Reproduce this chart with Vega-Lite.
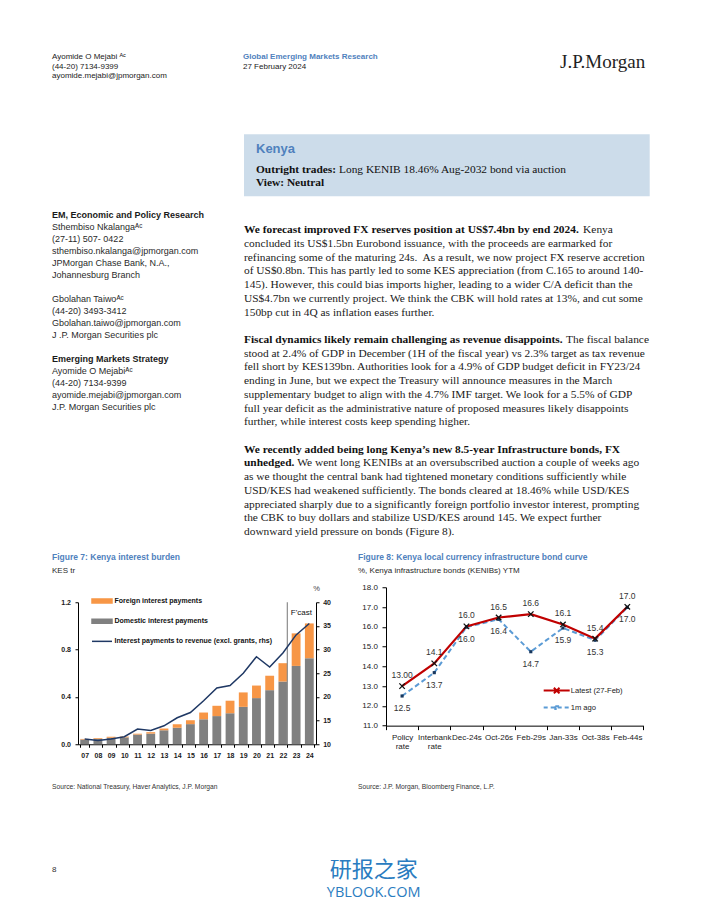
{
  "$schema": "https://vega.github.io/schema/vega-lite/v6.json",
  "background": "#ffffff",
  "padding": {"left": 52, "top": 52.25, "right": 0, "bottom": 7},
  "spacing": 0,
  "resolve": {"scale": {"color": "independent"}, "legend": {"color": "independent"}},
  "config": {
    "view": {"stroke": null},
    "font": "Liberation Sans",
    "axis": {"labelFont": "Liberation Sans", "titleFont": "Liberation Sans", "domainColor": "#000000", "tickColor": "#000000", "labelColor": "#1a1a1a", "grid": false, "domainWidth": 1, "tickWidth": 1}
  },
  "datasets": {
    "header_left": [
      {"line": 0, "text": "Ayomide O Mejabi ᴬᶜ"},
      {"line": 1, "text": "(44-20) 7134-9399"},
      {"line": 2, "text": "ayomide.mejabi@jpmorgan.com"}
    ],
    "header_mid": [
      {"line": 0, "role": "heading", "text": "Global Emerging Markets Research"},
      {"line": 1, "role": "text", "text": "27 February 2024"}
    ],
    "logo": [{"text": "J.P.Morgan"}],
    "box": [
      {"line": 1, "role": "lead", "text": "Outright trades:"},
      {"line": 1, "role": "tail", "text": "Long KENIB 18.46% Aug-2032 bond via auction"},
      {"line": 2, "role": "lead", "text": "View: Neutral"}
    ],
    "contacts": [
      {"line": 0, "role": "heading", "text": "EM, Economic and Policy Research"},
      {"line": 1, "role": "text", "text": "Sthembiso Nkalangaᴬᶜ"},
      {"line": 2, "role": "text", "text": "(27-11) 507- 0422"},
      {"line": 3, "role": "text", "text": "sthembiso.nkalanga@jpmorgan.com"},
      {"line": 4, "role": "text", "text": "JPMorgan Chase Bank, N.A.,"},
      {"line": 5, "role": "text", "text": "Johannesburg Branch"},
      {"line": 7, "role": "text", "text": "Gbolahan Taiwoᴬᶜ"},
      {"line": 8, "role": "text", "text": "(44-20) 3493-3412"},
      {"line": 9, "role": "text", "text": "Gbolahan.taiwo@jpmorgan.com"},
      {"line": 10, "role": "text", "text": "J .P. Morgan Securities plc"},
      {"line": 12, "role": "heading", "text": "Emerging Markets Strategy"},
      {"line": 13, "role": "text", "text": "Ayomide O Mejabiᴬᶜ"},
      {"line": 14, "role": "text", "text": "(44-20) 7134-9399"},
      {"line": 15, "role": "text", "text": "ayomide.mejabi@jpmorgan.com"},
      {"line": 16, "role": "text", "text": "J.P. Morgan Securities plc"}
    ],
    "body": [
      {"line": 0, "role": "lead", "text": "We forecast improved FX reserves position at US$7.4bn by end 2024."},
      {"line": 0, "role": "tail", "text": "Kenya"},
      {"line": 1, "role": "text", "text": "concluded its US$1.5bn Eurobond issuance, with the proceeds are earmarked for"},
      {"line": 2, "role": "text", "text": "refinancing some of the maturing 24s.\u00a0 As a result, we now project FX reserve accretion"},
      {"line": 3, "role": "text", "text": "of US$0.8bn. This has partly led to some KES appreciation (from C.165 to around 140-"},
      {"line": 4, "role": "text", "text": "145). However, this could bias imports higher, leading to a wider C/A deficit than the"},
      {"line": 5, "role": "text", "text": "US$4.7bn we currently project. We think the CBK will hold rates at 13%, and cut some"},
      {"line": 6, "role": "text", "text": "150bp cut in 4Q as inflation eases further."},
      {"line": 8, "role": "lead", "text": "Fiscal dynamics likely remain challenging as revenue disappoints."},
      {"line": 8, "role": "tail", "text": "The fiscal balance"},
      {"line": 9, "role": "text", "text": "stood at 2.4% of GDP in December (1H of the fiscal year) vs 2.3% target as tax revenue"},
      {"line": 10, "role": "text", "text": "fell short by KES139bn. Authorities look for a 4.9% of GDP budget deficit in FY23/24"},
      {"line": 11, "role": "text", "text": "ending in June, but we expect the Treasury will announce measures in the March"},
      {"line": 12, "role": "text", "text": "supplementary budget to align with the 4.7% IMF target. We look for a 5.5% of GDP"},
      {"line": 13, "role": "text", "text": "full year deficit as the administrative nature of proposed measures likely disappoints"},
      {"line": 14, "role": "text", "text": "further, while interest costs keep spending higher."},
      {"line": 16, "role": "lead", "text": "We recently added being long Kenya’s new 8.5-year Infrastructure bonds, FX"},
      {"line": 17, "role": "lead", "text": "unhedged."},
      {"line": 17, "role": "tail", "text": "We went long KENIBs at an oversubscribed auction a couple of weeks ago"},
      {"line": 18, "role": "text", "text": "as we thought the central bank had tightened monetary conditions sufficiently while"},
      {"line": 19, "role": "text", "text": "USD/KES had weakened sufficiently. The bonds cleared at 18.46% while USD/KES"},
      {"line": 20, "role": "text", "text": "appreciated sharply due to a significantly foreign portfolio investor interest, prompting"},
      {"line": 21, "role": "text", "text": "the CBK to buy dollars and stabilize USD/KES around 145. We expect further"},
      {"line": 22, "role": "text", "text": "downward yield pressure on bonds (Figure 8)."}
    ],
    "titles7": [
      {"line": 0, "role": "heading", "text": "Figure 7: Kenya interest burden"},
      {"line": 1, "role": "text", "text": "KES tr"}
    ],
    "titles8": [
      {"line": 0, "role": "heading", "text": "Figure 8: Kenya local currency infrastructure bond curve"},
      {"line": 1, "role": "text", "text": "%, Kenya infrastructure bonds (KENIBs) YTM"}
    ],
    "burden": [
      {"year": "07", "series": "Domestic interest payments", "value": 0.040}, {"year": "07", "series": "Foreign interest payments", "value": 0.005},
      {"year": "08", "series": "Domestic interest payments", "value": 0.046}, {"year": "08", "series": "Foreign interest payments", "value": 0.006},
      {"year": "09", "series": "Domestic interest payments", "value": 0.055}, {"year": "09", "series": "Foreign interest payments", "value": 0.008},
      {"year": "10", "series": "Domestic interest payments", "value": 0.058}, {"year": "10", "series": "Foreign interest payments", "value": 0.007},
      {"year": "11", "series": "Domestic interest payments", "value": 0.082}, {"year": "11", "series": "Foreign interest payments", "value": 0.007},
      {"year": "12", "series": "Domestic interest payments", "value": 0.090}, {"year": "12", "series": "Foreign interest payments", "value": 0.012},
      {"year": "13", "series": "Domestic interest payments", "value": 0.118}, {"year": "13", "series": "Foreign interest payments", "value": 0.015},
      {"year": "14", "series": "Domestic interest payments", "value": 0.140}, {"year": "14", "series": "Foreign interest payments", "value": 0.028},
      {"year": "15", "series": "Domestic interest payments", "value": 0.170}, {"year": "15", "series": "Foreign interest payments", "value": 0.033},
      {"year": "16", "series": "Domestic interest payments", "value": 0.211}, {"year": "16", "series": "Foreign interest payments", "value": 0.057},
      {"year": "17", "series": "Domestic interest payments", "value": 0.238}, {"year": "17", "series": "Foreign interest payments", "value": 0.087},
      {"year": "18", "series": "Domestic interest payments", "value": 0.262}, {"year": "18", "series": "Foreign interest payments", "value": 0.106},
      {"year": "19", "series": "Domestic interest payments", "value": 0.316}, {"year": "19", "series": "Foreign interest payments", "value": 0.122},
      {"year": "20", "series": "Domestic interest payments", "value": 0.390}, {"year": "20", "series": "Foreign interest payments", "value": 0.106},
      {"year": "21", "series": "Domestic interest payments", "value": 0.457}, {"year": "21", "series": "Foreign interest payments", "value": 0.122},
      {"year": "22", "series": "Domestic interest payments", "value": 0.530}, {"year": "22", "series": "Foreign interest payments", "value": 0.155},
      {"year": "23", "series": "Domestic interest payments", "value": 0.662}, {"year": "23", "series": "Foreign interest payments", "value": 0.275},
      {"year": "24", "series": "Domestic interest payments", "value": 0.727}, {"year": "24", "series": "Foreign interest payments", "value": 0.294}
    ],
    "ratio": [
      {"year": "07", "ratio": 11.1}, {"year": "08", "ratio": 10.8}, {"year": "09", "ratio": 11.1}, {"year": "10", "ratio": 11.6},
      {"year": "11", "ratio": 13.2}, {"year": "12", "ratio": 12.9}, {"year": "13", "ratio": 13.9}, {"year": "14", "ratio": 15.6},
      {"year": "15", "ratio": 16.7}, {"year": "16", "ratio": 19.2}, {"year": "17", "ratio": 21.9}, {"year": "18", "ratio": 22.4},
      {"year": "19", "ratio": 25.0}, {"year": "20", "ratio": 28.5}, {"year": "21", "ratio": 26.3}, {"year": "22", "ratio": 29.3},
      {"year": "23", "ratio": 33.1}, {"year": "24", "ratio": 35.5}
    ],
    "curve": [
      {"tenor": "Policy rate", "series": "Latest (27-Feb)", "ytm": 13.0, "label": "13.00"},
      {"tenor": "Interbank rate", "series": "Latest (27-Feb)", "ytm": 14.15, "label": "14.1"},
      {"tenor": "Dec-24s", "series": "Latest (27-Feb)", "ytm": 16.02, "label": "16.0"},
      {"tenor": "Oct-26s", "series": "Latest (27-Feb)", "ytm": 16.47, "label": "16.5"},
      {"tenor": "Feb-29s", "series": "Latest (27-Feb)", "ytm": 16.64, "label": "16.6"},
      {"tenor": "Jan-33s", "series": "Latest (27-Feb)", "ytm": 16.12, "label": "16.1"},
      {"tenor": "Oct-38s", "series": "Latest (27-Feb)", "ytm": 15.4, "label": "15.4"},
      {"tenor": "Feb-44s", "series": "Latest (27-Feb)", "ytm": 17.01, "label": "17.0"},
      {"tenor": "Policy rate", "series": "1m ago", "ytm": 12.5, "label": "12.5"},
      {"tenor": "Interbank rate", "series": "1m ago", "ytm": 13.68, "label": "13.7"},
      {"tenor": "Dec-24s", "series": "1m ago", "ytm": 15.98, "label": "16.0"},
      {"tenor": "Oct-26s", "series": "1m ago", "ytm": 16.38, "label": "16.4"},
      {"tenor": "Feb-29s", "series": "1m ago", "ytm": 14.74, "label": "14.7"},
      {"tenor": "Jan-33s", "series": "1m ago", "ytm": 15.94, "label": "15.9"},
      {"tenor": "Oct-38s", "series": "1m ago", "ytm": 15.32, "label": "15.3"},
      {"tenor": "Feb-44s", "series": "1m ago", "ytm": 16.98, "label": "17.0"}
    ],
    "src7": [{"text": "Source: National Treasury, Haver Analytics, J.P. Morgan"}],
    "src8": [{"text": "Source: J.P. Morgan, Bloomberg Finance, L.P."}],
    "page": [{"text": "8"}],
    "watermark": [
      {"line": 0, "role": "cn", "text": "研报之家"},
      {"line": 1, "role": "en", "text": "YBLOOK.COM"}
    ]
  },
  "vconcat": [
    {
      "spacing": 0,
      "hconcat": [
        {
          "width": 191, "height": 28.5,
          "data": {"name": "header_left"},
          "mark": {"type": "text", "align": "left", "baseline": "middle", "font": "Liberation Sans", "fontSize": 8, "color": "#222222"},
          "encoding": {
            "x": {"datum": 0, "type": "quantitative", "scale": {"domain": [0, 1]}, "axis": null},
            "y": {"field": "line", "type": "quantitative", "scale": {"domain": [-0.5, 2.5], "reverse": true, "nice": false, "zero": false}, "axis": null},
            "text": {"field": "text"}
          }
        },
        {
          "width": 317, "height": 28.5,
          "data": {"name": "header_mid"},
          "encoding": {
            "x": {"datum": 0, "type": "quantitative", "scale": {"domain": [0, 1]}, "axis": null},
            "y": {"field": "line", "type": "quantitative", "scale": {"domain": [-0.5, 2.5], "reverse": true, "nice": false, "zero": false}, "axis": null},
            "text": {"field": "text"}
          },
          "layer": [
            {"transform": [{"filter": "datum.role === 'heading'"}], "mark": {"type": "text", "align": "left", "baseline": "middle", "font": "Liberation Sans", "fontSize": 8, "fontWeight": "bold", "color": "#4f81bd"}},
            {"transform": [{"filter": "datum.role === 'text'"}], "mark": {"type": "text", "align": "left", "baseline": "middle", "font": "Liberation Sans", "fontSize": 8, "color": "#222222"}}
          ]
        },
        {
          "width": 90, "height": 19,
          "data": {"name": "logo"},
          "mark": {"type": "text", "align": "left", "baseline": "middle", "font": "Liberation Serif", "fontSize": 19, "color": "#1f1f1f"},
          "encoding": {
            "x": {"datum": 0, "type": "quantitative", "scale": {"domain": [0, 1]}, "axis": null},
            "text": {"field": "text"}
          }
        }
      ]
    },
    {"width": 1, "height": 52.25, "data": {"values": []}, "mark": "point"},
    {
      "spacing": 0,
      "hconcat": [
        {"width": 191.3, "height": 1, "data": {"values": []}, "mark": "point"},
        {
          "width": 405.7, "height": 62,
          "view": {"fill": "#ccdcea", "stroke": null},
          "title": {"text": "Kenya", "anchor": "start", "frame": "group", "dx": 12, "offset": -35, "baseline": "bottom", "font": "Liberation Sans", "fontSize": 13, "fontWeight": "bold", "color": "#4f81bd"},
          "data": {"name": "box"},
          "encoding": {
            "x": {"datum": 0, "type": "quantitative", "scale": {"domain": [0, 1]}, "axis": null},
            "y": {"field": "line", "type": "quantitative", "scale": {"domain": [-1.634, 2.993], "reverse": true, "nice": false, "zero": false}, "axis": null},
            "text": {"field": "text"}
          },
          "layer": [
            {"transform": [{"filter": "datum.role === 'lead'"}], "mark": {"type": "text", "align": "left", "baseline": "middle", "dx": 12, "font": "Liberation Serif", "fontSize": 11.4, "fontWeight": "bold", "color": "#111111"}},
            {"transform": [{"filter": "datum.role === 'tail'"}], "mark": {"type": "text", "align": "left", "baseline": "middle", "dx": 95, "font": "Liberation Serif", "fontSize": 11.4, "color": "#111111"}}
          ]
        }
      ]
    },
    {"width": 1, "height": 12.3, "data": {"values": []}, "mark": "point"},
    {
      "spacing": 0,
      "hconcat": [
        {
          "width": 191.3, "height": 204,
          "data": {"name": "contacts"},
          "encoding": {
            "x": {"datum": 0, "type": "quantitative", "scale": {"domain": [0, 1]}, "axis": null},
            "y": {"field": "line", "type": "quantitative", "scale": {"domain": [-0.5, 16.5], "reverse": true, "nice": false, "zero": false}, "axis": null},
            "text": {"field": "text"}
          },
          "layer": [
            {"transform": [{"filter": "datum.role === 'heading'"}], "mark": {"type": "text", "align": "left", "baseline": "middle", "font": "Liberation Sans", "fontSize": 9, "fontWeight": "bold", "color": "#1a1a1a"}},
            {"transform": [{"filter": "datum.role === 'text'"}], "mark": {"type": "text", "align": "left", "baseline": "middle", "font": "Liberation Sans", "fontSize": 9, "color": "#2a2a2a"}}
          ]
        },
        {
          "width": 450, "height": 329.7,
          "data": {"name": "body"},
          "encoding": {
            "x": {"datum": 0, "type": "quantitative", "scale": {"domain": [0, 1]}, "axis": null},
            "y": {"field": "line", "type": "quantitative", "scale": {"domain": [-1.53, 22.5], "reverse": true, "nice": false, "zero": false}, "axis": null},
            "text": {"field": "text"}
          },
          "layer": [
            {"transform": [{"filter": "datum.role === 'text'"}], "mark": {"type": "text", "align": "left", "baseline": "middle", "font": "Liberation Serif", "fontSize": 11.4, "color": "#1a1a1a"}},
            {"transform": [{"filter": "datum.role === 'lead'"}], "mark": {"type": "text", "align": "left", "baseline": "middle", "font": "Liberation Serif", "fontSize": 11.4, "fontWeight": "bold", "color": "#111111"}},
            {"transform": [{"filter": "datum.role === 'tail' && datum.line === 0"}], "mark": {"type": "text", "align": "left", "baseline": "middle", "dx": 339.1, "font": "Liberation Serif", "fontSize": 11.4, "color": "#1a1a1a"}},
            {"transform": [{"filter": "datum.role === 'tail' && datum.line === 8"}], "mark": {"type": "text", "align": "left", "baseline": "middle", "dx": 322.1, "font": "Liberation Serif", "fontSize": 11.4, "color": "#1a1a1a"}},
            {"transform": [{"filter": "datum.role === 'tail' && datum.line === 17"}], "mark": {"type": "text", "align": "left", "baseline": "middle", "dx": 53.2, "font": "Liberation Serif", "fontSize": 11.4, "color": "#1a1a1a"}}
          ]
        }
      ]
    },
    {"width": 1, "height": 9.35, "data": {"values": []}, "mark": "point"},
    {
      "spacing": 0,
      "resolve": {"scale": {"color": "independent"}, "legend": {"color": "independent"}},
      "hconcat": [
        {
          "spacing": 0,
          "resolve": {"scale": {"color": "independent"}, "legend": {"color": "independent"}},
          "vconcat": [
            {
              "width": 306, "height": 29,
              "data": {"name": "titles7"},
              "encoding": {
                "x": {"datum": 0, "type": "quantitative", "scale": {"domain": [0, 1]}, "axis": null},
                "y": {"field": "line", "type": "quantitative", "scale": {"domain": [-0.5, 1.5], "reverse": true, "nice": false, "zero": false}, "axis": null},
                "text": {"field": "text"}
              },
              "layer": [
                {"transform": [{"filter": "datum.role === 'heading'"}], "mark": {"type": "text", "align": "left", "baseline": "middle", "font": "Liberation Sans", "fontSize": 8.5, "fontWeight": "bold", "color": "#4f81bd"}},
                {"transform": [{"filter": "datum.role === 'text'"}], "mark": {"type": "text", "align": "left", "baseline": "middle", "font": "Liberation Sans", "fontSize": 8, "color": "#2a2a2a"}}
              ]
            },
            {"width": 1, "height": 5.2, "data": {"values": []}, "mark": "point"},
            {
              "spacing": 0,
              "resolve": {"scale": {"color": "independent"}, "legend": {"color": "independent"}},
              "hconcat": [
                {"width": 7.8, "height": 1, "data": {"values": []}, "mark": "point"},
                {
                  "width": 238, "height": 142,
                  "layer": [
                    {
                      "layer": [
                        {
                          "data": {"name": "burden"},
                          "mark": {"type": "bar"},
                          "encoding": {
                            "x": {"field": "year", "type": "ordinal", "scale": {"paddingInner": 0.33, "paddingOuter": 0.17},
                                  "axis": {"title": null, "labelAngle": 0, "labelFontSize": 7, "labelFontWeight": "bold", "tickBand": "extent", "tickSize": 3, "labelPadding": 4}},
                            "y": {"field": "value", "type": "quantitative", "stack": "zero", "scale": {"domain": [0, 1.2], "nice": false},
                                  "axis": {"title": null, "values": [0, 0.2, 0.4, 0.6, 0.8, 1.0, 1.2], "format": ".1f", "labelFontSize": 7, "labelFontWeight": "bold", "tickSize": 3, "labelPadding": 4.5}},
                            "color": {
                              "field": "series", "type": "nominal",
                              "scale": {"domain": ["Foreign interest payments", "Domestic interest payments", "Interest payments to revenue (excl. grants, rhs)"], "range": ["#f79646", "#808080", "#1f3864"]},
                              "legend": {
                                "orient": "none", "legendX": 13, "legendY": -12.3, "title": null, "direction": "vertical",
                                "labelFont": "Liberation Sans", "labelFontSize": 7, "labelFontWeight": "bold", "labelColor": "#111111", "labelOffset": 1.5, "labelLimit": 300,
                                "symbolSize": 400, "rowPadding": 4.2, "padding": 0, "symbolOffset": 0, "symbolStrokeWidth": 1.5,
                                "encode": {"symbols": {"update": {
                                  "shape": {"signal": "datum.value === 'Interest payments to revenue (excl. grants, rhs)' ? 'stroke' : 'M-1,-0.2H1V0.2H-1Z'"},
                                  "fill": {"signal": "datum.value === 'Foreign interest payments' ? '#f79646' : datum.value === 'Domestic interest payments' ? '#808080' : 'transparent'"},
                                  "stroke": {"signal": "datum.value === 'Interest payments to revenue (excl. grants, rhs)' ? '#1f3864' : 'transparent'"},
                                  "strokeWidth": {"value": 1.5},
                                  "opacity": {"value": 1}
                                }}}
                              }
                            },
                            "order": {"field": "series", "sort": "ascending"}
                          }
                        },
                        {
                          "data": {"values": [{"note": "F'cast"}]},
                          "mark": {"type": "rule", "color": "#8c8c8c", "strokeWidth": 1.2},
                          "encoding": {"x": {"datum": "22", "type": "ordinal", "bandPosition": 1}}
                        },
                        {
                          "data": {"values": [{"note": "F'cast"}]},
                          "mark": {"type": "text", "align": "left", "baseline": "middle", "dx": 3.5, "font": "Liberation Sans", "fontSize": 8, "color": "#111111"},
                          "encoding": {"x": {"datum": "22", "type": "ordinal", "bandPosition": 1}, "y": {"datum": 1.11, "type": "quantitative"}, "text": {"field": "note"}}
                        }
                      ]
                    },
                    {
                      "data": {"name": "ratio"},
                      "mark": {"type": "line", "strokeWidth": 1.5},
                      "encoding": {
                        "x": {"field": "year", "type": "ordinal"},
                        "y": {"field": "ratio", "type": "quantitative", "scale": {"domain": [10, 40], "nice": false, "zero": false},
                              "axis": {"orient": "right", "values": [10, 15, 20, 25, 30, 35, 40], "format": "d", "labelFontSize": 7, "labelFontWeight": "bold", "tickSize": 3, "labelPadding": 3.7,
                                       "title": "%", "titleAngle": 0, "titleX": 0, "titleY": -14, "titleAlign": "center", "titleBaseline": "middle", "titleFontSize": 7.5, "titleFontWeight": "normal", "titleColor": "#444444"}},
                        "color": {"datum": "Interest payments to revenue (excl. grants, rhs)", "type": "nominal"}
                      }
                    }
                  ],
                  "resolve": {"scale": {"y": "independent"}}
                }
              ]
            }
          ]
        },
        {
          "spacing": 0,
          "resolve": {"scale": {"color": "independent"}, "legend": {"color": "independent"}},
          "vconcat": [
            {
              "width": 300, "height": 29,
              "data": {"name": "titles8"},
              "encoding": {
                "x": {"datum": 0, "type": "quantitative", "scale": {"domain": [0, 1]}, "axis": null},
                "y": {"field": "line", "type": "quantitative", "scale": {"domain": [-0.5, 1.5], "reverse": true, "nice": false, "zero": false}, "axis": null},
                "text": {"field": "text"}
              },
              "layer": [
                {"transform": [{"filter": "datum.role === 'heading'"}], "mark": {"type": "text", "align": "left", "baseline": "middle", "font": "Liberation Sans", "fontSize": 8.5, "fontWeight": "bold", "color": "#4f81bd"}},
                {"transform": [{"filter": "datum.role === 'text'"}], "mark": {"type": "text", "align": "left", "baseline": "middle", "font": "Liberation Sans", "fontSize": 8, "color": "#2a2a2a"}}
              ]
            },
            {"width": 1, "height": 4.6, "data": {"values": []}, "mark": "point"},
            {
              "spacing": 0,
              "resolve": {"scale": {"color": "independent"}, "legend": {"color": "independent"}},
              "hconcat": [
                {"width": 2.1, "height": 1, "data": {"values": []}, "mark": "point"},
                {
                  "width": 257.4, "height": 138.4,
                  "data": {"name": "curve"},
                  "encoding": {
                    "x": {"field": "tenor", "type": "ordinal", "sort": null, "scale": {"type": "band", "paddingInner": 0, "paddingOuter": 0},
                          "axis": {"title": null, "labelAngle": 0, "labelExpr": "isValid(datum.value) ? split(datum.value, ' ') : ''", "labelFontSize": 8, "labelLineHeight": 9.3, "tickBand": "extent", "tickSize": 4, "labelPadding": 4, "labelOverlap": false, "labelColor": "#222222"}},
                    "y": {"field": "ytm", "type": "quantitative", "scale": {"domain": [11, 18], "nice": false, "zero": false},
                          "axis": {"title": null, "values": [11, 12, 13, 14, 15, 16, 17, 18], "format": ".1f", "labelFontSize": 8, "tickSize": 4, "labelPadding": 4.6, "labelColor": "#222222"}}
                  },
                  "layer": [
                    {
                      "transform": [{"filter": "datum.series === '1m ago'"}],
                      "mark": {"type": "line", "strokeWidth": 2, "strokeDash": [5, 3]},
                      "encoding": {
                        "color": {
                          "field": "series", "type": "nominal",
                          "scale": {"domain": ["Latest (27-Feb)", "1m ago"], "range": ["#c00000", "#5b9bd5"]},
                          "legend": {
                            "orient": "none", "legendX": 162.7, "legendY": 95.3, "title": null, "direction": "vertical",
                            "labelFont": "Liberation Sans", "labelFontSize": 7.6, "labelColor": "#222222", "labelOffset": 6,
                            "symbolSize": 196, "rowPadding": 2, "padding": 0, "symbolOffset": 0, "symbolStrokeWidth": 2,
                            "encode": {"symbols": {"update": {
                              "shape": {"signal": "datum.value === '1m ago' ? 'M-1.86,0H1.86M-0.2,-0.2H0.2V0.2H-0.2Z' : 'M-1.86,0H1.86M-0.4,-0.4L0.4,0.4M-0.4,0.4L0.4,-0.4'"},
                              "strokeDash": {"signal": "datum.value === '1m ago' ? [4, 3] : [1, 0]"},
                              "stroke": {"signal": "datum.value === '1m ago' ? '#5b9bd5' : '#c00000'"},
                              "fill": {"value": "transparent"},
                              "strokeWidth": {"value": 2},
                              "opacity": {"value": 1}
                            }}}
                          }
                        }
                      }
                    },
                    {
                      "transform": [{"filter": "datum.series === 'Latest (27-Feb)'"}],
                      "mark": {"type": "line", "strokeWidth": 2.2},
                      "encoding": {"color": {"field": "series", "type": "nominal"}}
                    },
                    {
                      "transform": [{"filter": "datum.series === '1m ago'"}],
                      "mark": {"type": "square", "size": 10, "color": "#17375e", "filled": true, "opacity": 1}
                    },
                    {
                      "transform": [{"filter": "datum.series === 'Latest (27-Feb)'"}],
                      "mark": {"type": "point", "shape": "M-1,-1L1,1M-1,1L1,-1", "size": 30, "filled": false, "color": "#111111", "strokeWidth": 1.3, "opacity": 1}
                    },
                    {
                      "transform": [{"filter": "datum.series === 'Latest (27-Feb)'"}],
                      "mark": {"type": "text", "dy": -11, "font": "Liberation Sans", "fontSize": 8.5, "color": "#333333"},
                      "encoding": {"text": {"field": "label"}}
                    },
                    {
                      "transform": [{"filter": "datum.series === '1m ago'"}],
                      "mark": {"type": "text", "dy": 12, "font": "Liberation Sans", "fontSize": 8.5, "color": "#333333"},
                      "encoding": {"text": {"field": "label"}}
                    }
                  ]
                }
              ]
            }
          ]
        }
      ]
    },
    {"width": 1, "height": 23.5, "data": {"values": []}, "mark": "point"},
    {
      "spacing": 0,
      "hconcat": [
        {
          "width": 306, "height": 10,
          "data": {"name": "src7"},
          "mark": {"type": "text", "align": "left", "baseline": "middle", "font": "Liberation Sans", "fontSize": 6.7, "color": "#333333"},
          "encoding": {"x": {"datum": 0, "type": "quantitative", "scale": {"domain": [0, 1]}, "axis": null}, "text": {"field": "text"}}
        },
        {
          "width": 300, "height": 10,
          "data": {"name": "src8"},
          "mark": {"type": "text", "align": "left", "baseline": "middle", "font": "Liberation Sans", "fontSize": 6.7, "color": "#333333"},
          "encoding": {"x": {"datum": 0, "type": "quantitative", "scale": {"domain": [0, 1]}, "axis": null}, "text": {"field": "text"}}
        }
      ]
    },
    {"width": 1, "height": 64, "data": {"values": []}, "mark": "point"},
    {
      "spacing": 261.7,
      "hconcat": [
        {
          "width": 4.6, "height": 28,
          "data": {"name": "page"},
          "mark": {"type": "text", "align": "center", "baseline": "middle", "font": "Liberation Sans", "fontSize": 8, "color": "#333333"},
          "encoding": {"text": {"field": "text"}}
        },
        {
          "width": 110, "height": 46,
          "data": {"name": "watermark"},
          "encoding": {
            "x": {"datum": 0.5, "type": "quantitative", "scale": {"domain": [0, 1]}, "axis": null},
            "y": {"field": "line", "type": "quantitative", "scale": {"domain": [-0.6, 1.4], "reverse": true, "nice": false, "zero": false}, "axis": null},
            "text": {"field": "text"}
          },
          "layer": [
            {"transform": [{"filter": "datum.role === 'cn'"}], "mark": {"type": "text", "align": "center", "baseline": "middle", "font": "Noto Sans CJK SC", "fontSize": 22, "color": "#2a7cc0"}},
            {"transform": [{"filter": "datum.role === 'en'"}], "mark": {"type": "text", "align": "center", "baseline": "middle", "font": "Open Sans", "fontSize": 14.5, "color": "#2a7cc0"}}
          ]
        }
      ]
    }
  ]
}
